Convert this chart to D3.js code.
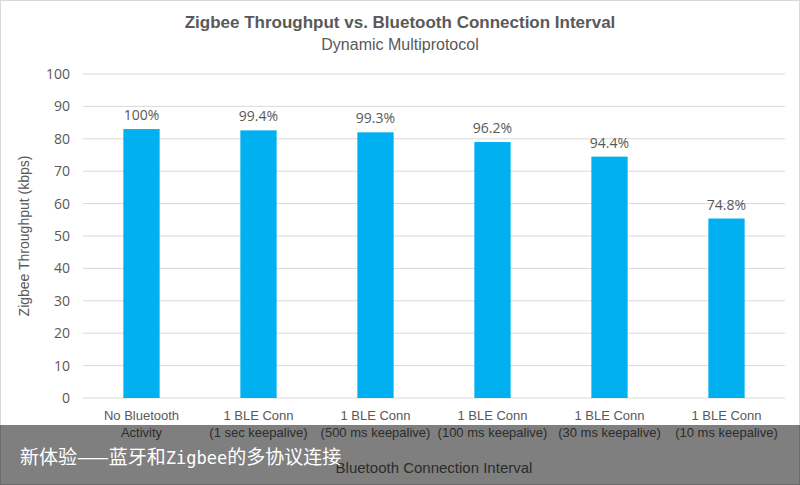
<!DOCTYPE html>
<html>
<head>
<meta charset="utf-8">
<script src="https://cdn.jsdelivr.net/npm/d3@7"></script>
<style>
  body { margin: 0; background: #fff; }
  svg { display: block; }
</style>
</head>
<body>
<script>
// data
var categories = ["No Bluetooth|Activity", "1 BLE Conn|(1 sec keepalive)", "1 BLE Conn|(500 ms keepalive)",
                  "1 BLE Conn|(100 ms keepalive)", "1 BLE Conn|(30 ms keepalive)", "1 BLE Conn|(10 ms keepalive)"]
var throughput = [83.0, 82.6, 82.0, 79.0, 74.5, 55.4]
var pctLabels = ["100%", "99.4%", "99.3%", "96.2%", "94.4%", "74.8%"]
var yTicks = [0, 10, 20, 30, 40, 50, 60, 70, 80, 90, 100]

var W = 800, H = 485
var narrow = "'Liberation Sans Narrow', 'Liberation Sans', sans-serif"
var numFont = "'Open Sans', sans-serif"
var grey = "#595959"

var svg = d3.select("body").append("svg")
    .attr("width", W).attr("height", H)

svg.append("rect")
    .attr("x", 0.5).attr("y", 0.5).attr("width", W - 1).attr("height", H - 1)
    .attr("fill", "#fff").attr("stroke", "#d9d9d9")

var x = d3.scaleBand().domain(categories).range([83, 785]).paddingInner(0.69).paddingOuter(0.345)
var y = d3.scaleLinear().domain([0, 100]).range([398, 74])

// gridlines
svg.append("g").selectAll("line")
    .data(yTicks)
    .enter()
    .append("line")
    .attr("x1", 83).attr("x2", 785)
    .attr("y1", function (d) { return y(d) }).attr("y2", function (d) { return y(d) })
    .attr("stroke", "#d9d9d9").attr("stroke-width", 1)

// y axis tick labels
var yAxis = d3.axisLeft(y).tickValues(yTicks).tickSize(0).tickPadding(13)
var yg = svg.append("g").attr("transform", "translate(83,0)").call(yAxis)
yg.select(".domain").remove()
yg.selectAll("text").attr("fill", grey).style("font-family", numFont).style("font-size", "14px")

// bars
svg.append("g").selectAll("rect")
    .data(throughput)
    .enter()
    .append("rect")
    .attr("x", function (d, i) { return x(categories[i]) })
    .attr("y", function (d) { return y(d) })
    .attr("width", x.bandwidth())
    .attr("height", function (d) { return y(0) - y(d) })
    .attr("fill", "#00b0f0")

// value labels
svg.append("g").selectAll("text")
    .data(throughput)
    .enter()
    .append("text")
    .attr("x", function (d, i) { return x(categories[i]) + x.bandwidth() / 2 })
    .attr("y", function (d) { return y(d) - 9 })
    .attr("text-anchor", "middle")
    .attr("fill", grey)
    .style("font-family", numFont).style("font-size", "14px")
    .text(function (d, i) { return pctLabels[i] })

// x category labels (two lines)
var xl = svg.append("g").selectAll("text")
    .data(categories)
    .enter()
    .append("text")
    .attr("x", function (d) { return x(d) + x.bandwidth() / 2 })
    .attr("y", 420)
    .attr("text-anchor", "middle")
    .attr("fill", grey)
    .style("font-family", narrow).style("font-size", "13px")
xl.append("tspan").attr("x", function (d) { return x(d) + x.bandwidth() / 2 })
    .text(function (d) { return d.split("|")[0] })
xl.append("tspan").attr("x", function (d) { return x(d) + x.bandwidth() / 2 }).attr("dy", 17)
    .text(function (d) { return d.split("|")[1] })

// titles
svg.append("text").attr("x", 400).attr("y", 28).attr("text-anchor", "middle")
    .attr("fill", grey).style("font-family", narrow).style("font-size", "17px").style("font-weight", "bold")
    .text("Zigbee Throughput vs. Bluetooth Connection Interval")
svg.append("text").attr("x", 400).attr("y", 50).attr("text-anchor", "middle")
    .attr("fill", grey).style("font-family", narrow).style("font-size", "16px")
    .text("Dynamic Multiprotocol")
svg.append("text").attr("x", 434).attr("y", 473).attr("text-anchor", "middle")
    .attr("fill", grey).style("font-family", narrow).style("font-size", "15px")
    .text("Bluetooth Connection Interval")
svg.append("text").attr("transform", "translate(29,236) rotate(-90)").attr("text-anchor", "middle")
    .attr("fill", grey).style("font-family", narrow).style("font-size", "14px")
    .text("Zigbee Throughput (kbps)")

// caption overlay
svg.append("rect").attr("x", 0).attr("y", 425).attr("width", W).attr("height", H - 425)
    .attr("fill", "#000").attr("opacity", 0.5)
var cap = svg.append("text").attr("x", 20).attr("y", 464)
    .attr("fill", "#fff").style("font-family", "'Noto Sans CJK SC', sans-serif").style("font-size", "19px")
cap.append("tspan").text("新体验——蓝牙和")
cap.append("tspan").style("font-family", "'DejaVu Sans Mono', monospace").style("font-size", "17px").text("Zigbee")
cap.append("tspan").text("的多协议连接")
</script>
</body>
</html>
